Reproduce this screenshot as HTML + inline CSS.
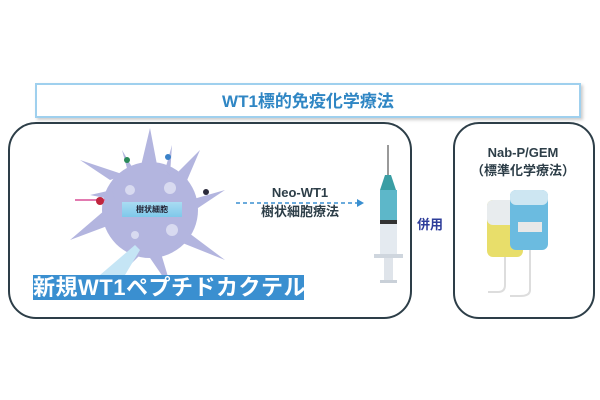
<!DOCTYPE html>
<html><head><meta charset="utf-8"><style>
body{margin:0;width:600px;height:400px;background:#fff;position:relative;overflow:hidden;font-family:"Liberation Sans","Noto Sans CJK JP",sans-serif}
.a{position:absolute}
</style></head><body>
<div class="a" style="left:35px;top:83px;width:542px;height:31px;border:2px solid #9fd0ee;box-shadow:2px 2px 3px #ccc;"></div>
<div class="a" style="left:35px;top:87px;width:546px;text-align:center;font-size:17px;font-weight:bold;color:#2f86c4;">WT1標的免疫化学療法</div>
<div class="a" style="left:8px;top:122px;width:400px;height:193px;border:2px solid #2d3e48;border-radius:28px;"></div>
<div class="a" style="left:453px;top:122px;width:138px;height:193px;border:2px solid #2d3e48;border-radius:26px;"></div>
<svg class="a" style="left:0;top:0" width="600" height="400">
 <g fill="#b3b5df">
  <circle cx="150" cy="210" r="48"/>
  <path d="M140 170 L150 128 L158 170Z M110 180 L80 160 L125 175Z M175 175 L200 150 L185 185Z M190 200 L225 190 L192 212Z M185 230 L225 260 L175 240Z M160 250 L172 290 L148 255Z M130 250 L110 285 L140 255Z M110 225 L70 240 L105 210Z M112 190 L90 195 L115 200Z M165 170 L172 145 L170 175Z M128 172 L122 150 L135 172Z"/>
 </g>
 <g fill="#d8daf0"><circle cx="130" cy="190" r="5"/><circle cx="170" cy="188" r="6"/><circle cx="172" cy="230" r="6"/><circle cx="135" cy="235" r="4"/></g>
 <path d="M105 200 L75 200" stroke="#e27ab0" stroke-width="2"/><circle cx="100" cy="201" r="4" fill="#c0253d"/>
 <circle cx="127" cy="160" r="3" fill="#2a8a5a"/><circle cx="168" cy="157" r="3" fill="#3a82c8"/><circle cx="206" cy="192" r="3" fill="#2a2a3a"/>
 <polygon points="135,245 100,275 125,275 140,250" fill="#c5e5f5"/>
 <line x1="236" y1="203" x2="357" y2="203" stroke="#3a8fd0" stroke-width="1.5" stroke-dasharray="4,3"/>
 <polygon points="357,199 364,203 357,207" fill="#3a8fd0"/>
 <line x1="388" y1="145" x2="388" y2="175" stroke="#333" stroke-width="1"/>
 <polygon points="385,175 391,175 396,190 380,190" fill="#3a9ea4"/>
 <rect x="380" y="190" width="17" height="55" fill="#5db7c9"/>
 <rect x="380" y="220" width="17" height="4" fill="#333"/>
 <rect x="380" y="224" width="17" height="30" fill="#e4eaf0"/>
 <rect x="374" y="254" width="29" height="4" fill="#cfd6de"/>
 <rect x="384" y="258" width="9" height="22" fill="#dfe4ea"/>
 <rect x="380" y="280" width="17" height="3" fill="#c9d0d8"/>
 <rect x="487" y="200" width="36" height="57" rx="6" fill="#e8de6a"/>
 <rect x="487" y="200" width="36" height="25" rx="6" fill="#e8ecee"/>
 <rect x="510" y="190" width="38" height="60" rx="6" fill="#6bbbe0"/>
 <rect x="510" y="190" width="38" height="15" rx="6" fill="#cde6f2"/>
 <rect x="518" y="222" width="24" height="10" fill="#e8e8e8"/>
 <path d="M505 257 L505 285 Q505 292 498 292 L488 292 M530 250 L530 290 Q530 296 520 296 L510 296" stroke="#ddd" stroke-width="2" fill="none"/>
</svg>
<div class="a" style="left:122px;top:202px;width:60px;height:15px;background:linear-gradient(#a9dcf2,#7fc8ea);font-size:8px;font-weight:bold;text-align:center;line-height:15px;color:#223;">樹状細胞</div>
<div class="a" style="left:33px;top:275px;width:271px;height:25px;background:#3a8fd0;color:#fff;font-size:22px;font-weight:bold;line-height:25px;white-space:nowrap;letter-spacing:0.5px;">新規WT1ペプチドカクテル</div>
<div class="a" style="left:240px;top:183px;width:120px;text-align:center;font-size:13px;font-weight:bold;color:#2d3e48;line-height:19px;">Neo-WT1<br>樹状細胞療法</div>
<div class="a" style="left:417px;top:214px;font-size:13px;font-weight:bold;color:#2e3d9a;">併用</div>
<div class="a" style="left:455px;top:144px;width:136px;text-align:center;font-size:13px;font-weight:bold;color:#2d3e48;line-height:18px;">Nab-P/GEM<br>（標準化学療法）</div>
</body></html>
